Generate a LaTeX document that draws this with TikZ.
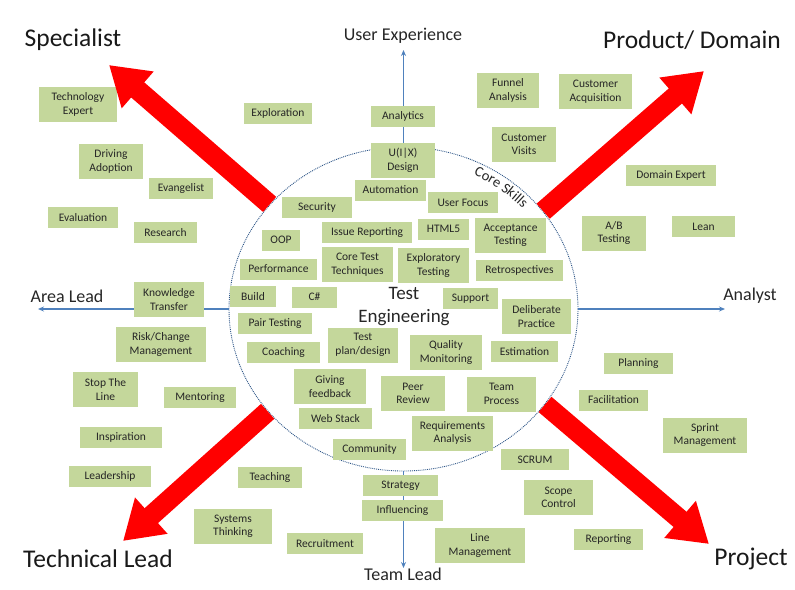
\documentclass[tikz,border=0pt]{standalone}
\usepackage{fontspec}
\setmainfont{Carlito}
\usepackage{tikz}
\usetikzlibrary{arrows.meta, positioning, shapes.geometric, decorations.text}
\definecolor{skillgreen}{RGB}{196,215,155}
\definecolor{axisblue}{RGB}{79,129,189}
\definecolor{ringblue}{RGB}{45,85,135}
\definecolor{arrowred}{RGB}{255,0,0}
\definecolor{txtgray}{RGB}{38,38,38}
\tikzset{
  skillbox/.style={rectangle,fill=skillgreen,text=txtgray,align=center,inner sep=1pt,minimum height=21pt,font=\fontsize{11.5}{13.5}\selectfont},
  skillbox2/.style={skillbox,minimum height=35pt},
  cornerlabel/.style={font=\fontsize{25.5}{30}\selectfont,text=black!90},
  axislabel/.style={font=\fontsize{18}{21}\selectfont,text=black!85},
  axisarr/.style={-{Stealth[length=6pt,width=5pt]},line width=1.1pt,color=axisblue},
  fatarr/.style={-{Triangle[length=38pt,width=46pt]},line width=20pt,color=arrowred},
  ring/.style={ellipse,draw=ringblue,densely dotted,line width=0.9pt,minimum width=349pt,minimum height=324pt,inner sep=0pt}
}
\begin{document}
\begin{tikzpicture}[x=1pt,y=-1pt]
  \useasboundingbox (0,0) rectangle (795,589);

  %% Core skills ring and axes
  \node[ring] (core) at (403.5,309) {};
  \coordinate (uxTip) at (403.5,50);
  \coordinate (tlTip) at (403.5,568);
  \coordinate (alTip) at (38,309);
  \coordinate (anTip) at (725,309);
  \draw[axisarr] (core.north) -- (uxTip);
  \draw[axisarr] (core.south) -- (tlTip);
  \draw[axisarr] (core.west) -- (alTip);
  \draw[axisarr] (core.east) -- (anTip);

  \node[axislabel] (ux) at (403,36) {User Experience};
  \node[axislabel] (teamlead) at (403,574) {Team Lead};
  \node[axislabel] (arealead) at (67,296) {Area Lead};
  \node[axislabel] (analyst) at (750,296) {Analyst};

  \node[font=\fontsize{19}{23}\selectfont,text=black!85,align=center] (testeng) at (404,307) {Test\\Engineering};
  %% label bent along the inside of the ring
  \path[decorate,decoration={text along path,text align=center,text color=black!85,
      text={|\fontsize{14.5}{16}\selectfont|Core Skills}}]
    (core.center) ++(-76:161 and 149) arc[start angle=-76,end angle=-30,x radius=161,y radius=149];

  %% Specialist side
  \node[skillbox2,minimum width=78pt] (techexpert) at (78,104.5) {Technology\\Expert};
  \node[skillbox2,minimum width=64pt] (driving) at (111,161.5) {Driving\\Adoption};
  \node[skillbox,minimum width=64pt] (evangelist) at (181,188.5) {Evangelist};
  \node[skillbox,minimum width=68pt] (exploration) at (278,113.5) {Exploration};
  \node[skillbox,minimum width=70pt] (evaluation) at (83,217.5) {Evaluation};
  \node[skillbox,minimum width=63pt] (research) at (165.5,232.5) {Research};

  %% User experience / product side
  \node[skillbox2,minimum width=64pt] (uixdesign) at (403,160.5) {U(I|X)\\Design};
  \node[skillbox,minimum width=64pt,above=16pt of uixdesign] (analytics) {Analytics};
  \node[skillbox2,minimum width=62pt] (funnel) at (508,90.5) {Funnel\\Analysis};
  \node[skillbox2,minimum width=64pt] (custvisits) at (524,144.5) {Customer\\Visits};
  \node[skillbox2,minimum width=73pt] (custacq) at (595.5,91.5) {Customer\\Acquisition};
  \node[skillbox,minimum width=90pt] (domainexpert) at (671,175) {Domain Expert};
  \node[skillbox2,minimum width=64pt] (abtesting) at (614,233) {A/B\\Testing};
  \node[skillbox,minimum width=63pt] (lean) at (703.5,226.5) {Lean};

  %% Inside the ring
  \node[skillbox,minimum width=71pt] (automation) at (390.5,190) {Automation};
  \node[skillbox,minimum width=70pt] (security) at (317,207.5) {Security};
  \node[skillbox,minimum width=70pt] (userfocus) at (463,202.5) {User Focus};
  \node[skillbox,minimum width=38pt] (oop) at (281,240) {OOP};
  \node[skillbox,minimum width=90pt] (issuerep) at (367,232.5) {Issue Reporting};
  \node[skillbox,minimum width=51pt] (html) at (443.5,229) {HTML5};
  \node[skillbox2,minimum width=71pt] (acceptance) at (510.5,235.5) {Acceptance\\Testing};
  \node[skillbox,minimum width=77pt] (performance) at (278.5,269) {Performance};
  \node[skillbox2,minimum width=71pt] (coretest) at (357.5,264.5) {Core Test\\Techniques};
  \node[skillbox2,minimum width=71pt] (exploratory) at (433.5,265.5) {Exploratory\\Testing};
  \node[skillbox,minimum width=87pt] (retro) at (519.5,270) {Retrospectives};
  \node[skillbox,minimum width=46pt] (build) at (253,296.5) {Build};
  \node[skillbox,minimum width=45pt] (csharp) at (314.5,297) {C\#};
  \node[skillbox,minimum width=55pt] (support) at (470.5,298.5) {Support};
  \node[skillbox2,minimum width=69pt] (deliberate) at (536.5,316.5) {Deliberate\\Practice};
  \node[skillbox,minimum width=74pt] (pairtesting) at (275,323.5) {Pair Testing};
  \node[skillbox,minimum width=73pt] (coaching) at (283.5,352.5) {Coaching};
  \node[skillbox2,minimum width=70pt] (testplan) at (363,345) {Test\\plan/design};
  \node[skillbox2,minimum width=72pt] (quality) at (446,352.5) {Quality\\Monitoring};
  \node[skillbox,minimum width=67pt] (estimation) at (524.5,351.5) {Estimation};
  \node[skillbox2,minimum width=72pt] (givingfb) at (330,386.5) {Giving\\feedback};
  \node[skillbox2,minimum width=64pt] (peerreview) at (413,393.5) {Peer\\Review};
  \node[skillbox2,minimum width=69pt] (teamprocess) at (501.5,394) {Team\\Process};
  \node[skillbox,minimum width=73pt] (webstack) at (335.5,418.5) {Web Stack};
  \node[skillbox2,minimum width=81pt] (reqanalysis) at (452.5,433) {Requirements\\Analysis};
  \node[skillbox,minimum width=73pt] (community) at (369.5,449.5) {Community};

  %% Area lead / technical lead side
  \node[skillbox2,minimum width=70pt] (knowledge) at (169,299.5) {Knowledge\\Transfer};
  \node[skillbox2,minimum width=90pt] (riskchange) at (161,344.5) {Risk/Change\\Management};
  \node[skillbox2,minimum width=65pt] (stopline) at (105.5,389.5) {Stop The\\Line};
  \node[skillbox,minimum width=72pt] (mentoring) at (200,397.5) {Mentoring};
  \node[skillbox,minimum width=82pt] (inspiration) at (121,437.5) {Inspiration};
  \node[skillbox,minimum width=82pt] (leadership) at (110,476.5) {Leadership};
  \node[skillbox,minimum width=64pt] (teaching) at (270,477.5) {Teaching};
  \node[skillbox2,minimum width=78pt] (systems) at (233,526.5) {Systems\\Thinking};

  %% Team lead side
  \node[skillbox,minimum width=76pt] (recruitment) at (325,543.5) {Recruitment};
  \node[skillbox,minimum width=75pt] (strategy) at (400.5,485.5) {Strategy};
  \node[skillbox,minimum width=81pt,below=4pt of strategy,xshift=2pt] (influencing) {Influencing};
  \node[skillbox2,minimum width=90pt] (linemgmt) at (480,545.5) {Line\\Management};

  %% Analyst / project side
  \node[skillbox,minimum width=69pt] (planning) at (638.5,363.5) {Planning};
  \node[skillbox,minimum width=69pt] (facilitation) at (613.5,400) {Facilitation};
  \node[skillbox2,minimum width=84pt] (sprint) at (705,435) {Sprint\\Management};
  \node[skillbox,minimum width=68pt] (scrum) at (535,459.5) {SCRUM};
  \node[skillbox2,minimum width=69pt] (scope) at (558.5,497.5) {Scope\\Control};
  \node[skillbox,minimum width=69pt] (reporting) at (608.5,539.5) {Reporting};

  %% Career directions
  \node[cornerlabel] (specialist) at (73,40) {Specialist};
  \node[cornerlabel] (product) at (692,40) {Product/ Domain};
  \node[cornerlabel] (techlead) at (98,559) {Technical Lead};
  \node[cornerlabel] (project) at (751,559) {Project};
  \coordinate (specTip) at (109,65);
  \coordinate (prodTip) at (704,71);
  \coordinate (techTip) at (123,541);
  \coordinate (projTip) at (709,544);
  \draw[fatarr] (core.142.8) -- (specTip);
  \draw[fatarr] (core.35.5) -- (prodTip);
  \draw[fatarr] (core.217.2) -- (techTip);
  \draw[fatarr] (core.326.8) -- (projTip);
\end{tikzpicture}
\end{document}
